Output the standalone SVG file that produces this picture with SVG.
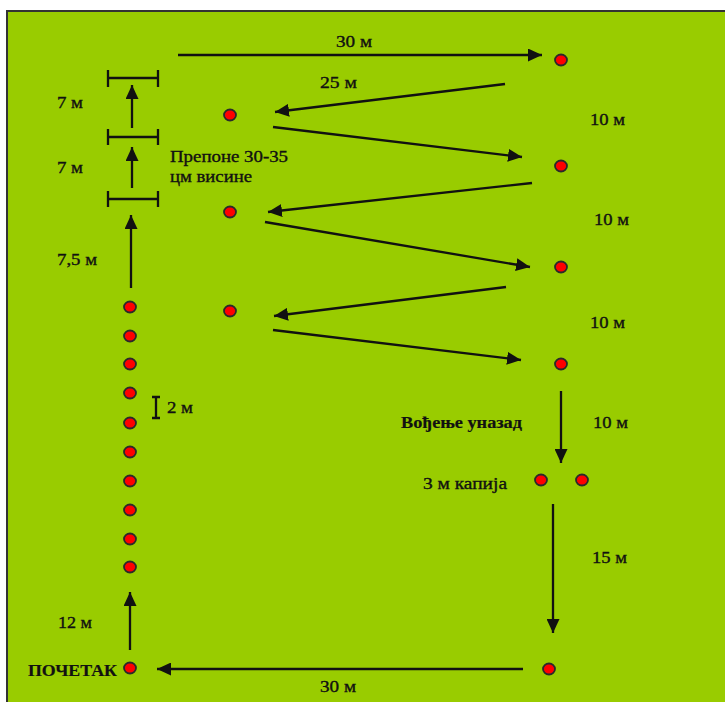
<svg xmlns="http://www.w3.org/2000/svg" width="725" height="702" viewBox="0 0 725 702">
<style>
.dot{fill:#ff0000;stroke:#2a2a2a;stroke-width:1.8}
.ln{stroke:#111;stroke-width:2.3;fill:none}
.arr{stroke:#111;stroke-width:2.3;fill:none;marker-end:url(#ah)}
.t{font-family:"Liberation Serif","Times New Roman",serif;font-size:16px;fill:#111;stroke:#111;stroke-width:0.35}
.b{font-weight:bold;stroke-width:0.2}
</style>
<defs>
<marker id="ah" markerUnits="userSpaceOnUse" markerWidth="15" markerHeight="13" refX="14" refY="6.5" orient="auto">
<path d="M0,0 L14,6.5 L0,13 Z" fill="#111"/>
</marker>
</defs>
<rect x="0" y="0" width="725" height="702" fill="#ffffff"/>
<rect x="7" y="11" width="730" height="700" fill="#99cc00" stroke="#333" stroke-width="2"/>

<g id="connectors">
<line class="arr" x1="178" y1="55" x2="542" y2="55"/>
<line class="arr" x1="505" y1="84" x2="275" y2="112"/>
<line class="arr" x1="273" y1="127" x2="522" y2="157"/>
<line class="arr" x1="532" y1="183" x2="268" y2="212"/>
<line class="arr" x1="265" y1="222" x2="530" y2="267"/>
<line class="arr" x1="506" y1="287" x2="274" y2="316"/>
<line class="arr" x1="273" y1="330" x2="521" y2="360"/>
<line class="arr" x1="561" y1="391" x2="561" y2="463"/>
<line class="arr" x1="553" y1="504" x2="553" y2="633"/>
<line class="arr" x1="523" y1="669" x2="157" y2="669"/>
<line class="arr" x1="130" y1="650" x2="130" y2="592"/>
<line class="arr" x1="131" y1="288" x2="131" y2="215"/>
<line class="arr" x1="132" y1="188" x2="132" y2="147"/>
<line class="arr" x1="132" y1="128" x2="132" y2="85"/>
</g>

<g id="hurdle1"><path class="ln" d="M108,78 H158 M108,70 V87 M158,70 V87"/></g>
<g id="hurdle2"><path class="ln" d="M108,137 H158 M108,129 V145 M158,129 V145"/></g>
<g id="hurdle3"><path class="ln" d="M108,199 H158 M108,191 V207 M158,191 V207"/></g>
<g id="scale2m"><path class="ln" d="M156,397 V418 M152,397 H160 M152,418 H160" stroke-width="2.5"/></g>

<g id="cones-right">
<ellipse class="dot" cx="561" cy="60" rx="6" ry="5.5"/>
<ellipse class="dot" cx="561" cy="166" rx="6" ry="5.5"/>
<ellipse class="dot" cx="561" cy="267" rx="6" ry="5.5"/>
<ellipse class="dot" cx="561" cy="364" rx="6" ry="5.5"/>
</g>
<g id="cones-left">
<ellipse class="dot" cx="230" cy="115" rx="6" ry="5.5"/>
<ellipse class="dot" cx="230" cy="212" rx="6" ry="5.5"/>
<ellipse class="dot" cx="230" cy="311" rx="6" ry="5.5"/>
</g>
<g id="slalom">
<ellipse class="dot" cx="130" cy="307" rx="6" ry="5.5"/>
<ellipse class="dot" cx="130" cy="336" rx="6" ry="5.5"/>
<ellipse class="dot" cx="130" cy="364" rx="6" ry="5.5"/>
<ellipse class="dot" cx="130" cy="393" rx="6" ry="5.5"/>
<ellipse class="dot" cx="130" cy="423" rx="6" ry="5.5"/>
<ellipse class="dot" cx="130" cy="452" rx="6" ry="5.5"/>
<ellipse class="dot" cx="130" cy="481" rx="6" ry="5.5"/>
<ellipse class="dot" cx="130" cy="510" rx="6" ry="5.5"/>
<ellipse class="dot" cx="130" cy="539" rx="6" ry="5.5"/>
<ellipse class="dot" cx="130" cy="567" rx="6" ry="5.5"/>
</g>
<g id="gate">
<ellipse class="dot" cx="541" cy="480" rx="6" ry="5.5"/>
<ellipse class="dot" cx="582" cy="480" rx="6" ry="5.5"/>
</g>
<g id="start-cone"><ellipse class="dot" cx="130" cy="668" rx="6" ry="5.5"/></g>
<g id="end-cone"><ellipse class="dot" cx="549" cy="669" rx="6" ry="5.5"/></g>

<g id="labels">
<text class="t" x="336" y="47" textLength="36" lengthAdjust="spacingAndGlyphs">30 м</text>
<text class="t" x="320" y="88" textLength="37" lengthAdjust="spacingAndGlyphs">25 м</text>
<text class="t" x="57" y="108" textLength="26" lengthAdjust="spacingAndGlyphs">7 м</text>
<text class="t" x="57" y="173" textLength="26" lengthAdjust="spacingAndGlyphs">7 м</text>
<text class="t" x="57" y="265" textLength="40" lengthAdjust="spacingAndGlyphs">7,5 м</text>
<text class="t" x="170" y="162" textLength="118" lengthAdjust="spacingAndGlyphs">Препоне 30-35</text>
<text class="t" x="170" y="182" textLength="82" lengthAdjust="spacingAndGlyphs">цм висине</text>
<text class="t" x="590" y="125" textLength="35" lengthAdjust="spacingAndGlyphs">10 м</text>
<text class="t" x="594" y="225" textLength="35" lengthAdjust="spacingAndGlyphs">10 м</text>
<text class="t" x="590" y="328" textLength="35" lengthAdjust="spacingAndGlyphs">10 м</text>
<text class="t" x="593" y="428" textLength="35" lengthAdjust="spacingAndGlyphs">10 м</text>
<text class="t b" x="401" y="428" textLength="121" lengthAdjust="spacingAndGlyphs">Вођење уназад</text>
<text class="t" x="423" y="489" textLength="84" lengthAdjust="spacingAndGlyphs">3 м капија</text>
<text class="t" x="592" y="563" textLength="35" lengthAdjust="spacingAndGlyphs">15 м</text>
<text class="t" x="167" y="413" textLength="26" lengthAdjust="spacingAndGlyphs">2 м</text>
<text class="t" x="58" y="628" textLength="34" lengthAdjust="spacingAndGlyphs">12 м</text>
<text class="t b" x="28" y="676" textLength="89" lengthAdjust="spacingAndGlyphs">ПОЧЕТАК</text>
<text class="t" x="320" y="692" textLength="36" lengthAdjust="spacingAndGlyphs">30 м</text>
</g>
</svg>
